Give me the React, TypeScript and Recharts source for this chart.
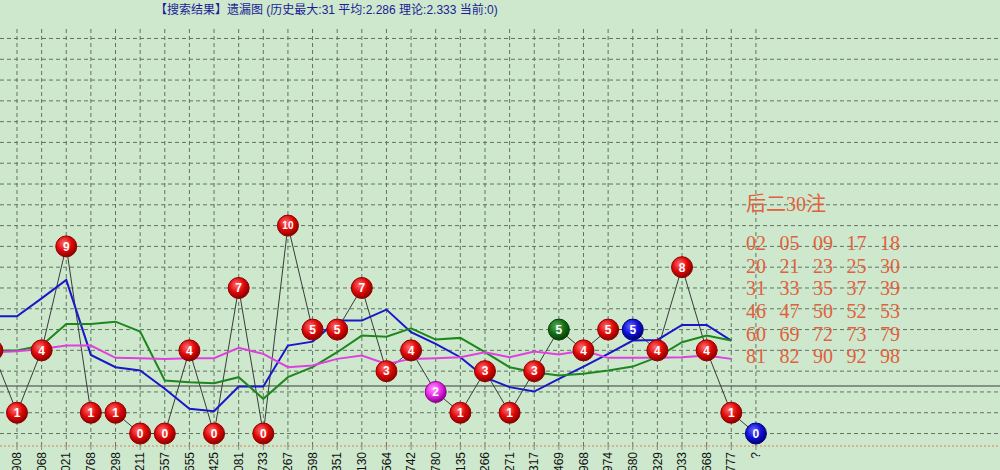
import React from 'react';
import { LineChart, Line, XAxis, YAxis, ReferenceLine } from 'recharts';

// period labels (first one is cut off by the left edge in the source picture)
const periods = ['', '908', '068', '021', '768', '298', '211', '557', '655', '425', '081', '733', '267', '598', '351', '130', '564', '742', '780', '135', '266', '271', '317', '469', '968', '974', '680', '329', '033', '668', '777', '?'];

// miss counts per period
const misses = [4, 1, 4, 9, 1, 1, 0, 0, 4, 0, 7, 0, 10, 5, 5, 7, 3, 4, 2, 1, 3, 1, 3, 5, 4, 5, 5, 4, 8, 4, 1, 0];
const ballKind = ['red', 'red', 'red', 'red', 'red', 'red', 'red', 'red', 'red', 'red', 'red', 'red', 'red', 'red', 'red', 'red', 'red', 'red', 'magenta', 'red', 'red', 'red', 'red', 'green', 'red', 'red', 'blue', 'red', 'red', 'red', 'red', 'blue'];

// moving averages
const maBlue = [5.64, 5.64, 6.5, 7.39, 3.78, 3.19, 3.03, 2.15, 1.19, 1.07, 2.26, 2.26, 4.23, 4.42, 5.43, 5.43, 5.96, 4.87, 4.31, 3.67, 2.7, 2.23, 2.02, 2.63, 3.22, 3.83, 4.47, 4.5, 5.22, 5.22, 4.47];
const maGreen = [3.99, 3.99, 4.23, 5.27, 5.27, 5.38, 4.9, 2.55, 2.47, 2.42, 2.71, 1.67, 2.71, 3.19, 3.91, 4.71, 4.66, 5.06, 4.52, 4.6, 3.91, 3.19, 2.95, 2.79, 2.87, 3.03, 3.22, 3.67, 4.39, 4.71, 4.47];
const maPink = [3.91, 3.96, 4.07, 4.23, 4.23, 3.64, 3.62, 3.59, 3.62, 3.62, 4.12, 3.83, 3.19, 3.27, 3.59, 3.75, 3.35, 3.59, 3.62, 3.67, 3.91, 3.67, 3.94, 3.8, 3.99, 3.64, 3.64, 3.64, 3.67, 3.75, 3.59];

const avgMiss = 2.286;
const yTicks = [0, 1, 2, 3, 4, 5, 6, 7, 8, 9, 10, 11, 12, 13, 14, 15, 16, 17, 18, 19];

const noteTitle = '后二30注';
const noteRows = [
  ['02', '05', '09', '17', '18'],
  ['20', '21', '23', '25', '30'],
  ['31', '33', '35', '37', '39'],
  ['46', '47', '50', '52', '53'],
  ['60', '69', '72', '73', '79'],
  ['81', '82', '90', '92', '98'],
];

const palette: Record<string, [string, string, string]> = {
  red: ['#ff7070', '#e00808', '#8c0000'],
  green: ['#5fb05f', '#157015', '#063f06'],
  blue: ['#6a6aff', '#1010d8', '#00007a'],
  magenta: ['#ff9cff', '#ea2aea', '#8a008a'],
};

const data = periods.map((p, i) => ({
  idx: i,
  miss: misses[i],
  blue: maBlue[i] ?? null,
  green: maGreen[i] ?? null,
  pink: maPink[i] ?? null,
}));

const Ball = (props: any) => {
  const { cx, cy, index, value } = props;
  if (cx == null || cy == null) return null;
  const [light, mid, dark] = palette[ballKind[index]] || palette.red;
  const id = `ball${index}`;
  return (
    <g key={id}>
      <defs>
        <radialGradient id={id} cx="40%" cy="35%" r="65%">
          <stop offset="0%" stopColor={light} />
          <stop offset="55%" stopColor={mid} />
          <stop offset="100%" stopColor={dark} />
        </radialGradient>
      </defs>
      <circle cx={cx} cy={cy} r={10.5} fill={`url(#${id})`} stroke={dark} strokeWidth={1} />
      <text x={cx} y={cy} dy="0.36em" textAnchor="middle" fill="#fff" fontWeight="bold"
        fontSize={value >= 10 ? 10 : 12} fontFamily="Liberation Sans, Arial, sans-serif">{value}</text>
    </g>
  );
};

const PeriodTick = (props: any) => {
  const { x, y, payload } = props;
  const label = periods[payload.value] ?? '';
  return (
    <text x={x} y={y} transform={`rotate(-90 ${x} ${y})`} textAnchor="end" dy="0.35em"
      fontSize={12} fontFamily="Liberation Sans, Arial, sans-serif" fill="#111">{label}</text>
  );
};

const gridStroke = '#617461';

export default function App() {
  return (
    <div style={{ position: 'fixed', left: 0, top: 0, width: 1000, height: 470, overflow: 'hidden', background: '#cde8cc' }}>
      <LineChart width={1000} height={470} data={data} margin={{ top: 26, right: 0, bottom: 0, left: 0 }}>
        <XAxis dataKey="idx" type="number" domain={[0.31, 40.91]} allowDataOverflow
          ticks={periods.map((_, i) => i)} interval={0} height={24} tickSize={4}
          tick={<PeriodTick />} axisLine={{ stroke: '#e0805a', strokeDasharray: '2 2' }}
          tickLine={{ stroke: '#888' }} />
        <YAxis hide type="number" domain={[-0.6, 19.6]} allowDataOverflow ticks={yTicks} />
        {yTicks.map((v) => (
          <ReferenceLine key={`h${v}`} y={v} stroke={gridStroke} strokeDasharray="4 3" />
        ))}
        {periods.map((_, i) => (
          <ReferenceLine key={`v${i}`} x={i} stroke={gridStroke} strokeDasharray="4 3" />
        ))}
        <ReferenceLine y={avgMiss} stroke="#3c3c3c" strokeWidth={1} />
        <Line dataKey="miss" stroke="#3a3a3a" strokeWidth={1} dot={<Ball />} isAnimationActive={false} />
        <Line dataKey="blue" stroke="#1818c8" strokeWidth={2} dot={false} isAnimationActive={false} />
        <Line dataKey="green" stroke="#1e861e" strokeWidth={2} dot={false} isAnimationActive={false} />
        <Line dataKey="pink" stroke="#e040e0" strokeWidth={2} dot={false} isAnimationActive={false} />
      </LineChart>

      <div style={{ position: 'absolute', left: 155, top: 2, fontSize: 12, color: '#1c1c96', whiteSpace: 'nowrap',
        fontFamily: 'Liberation Sans, "Noto Sans CJK SC", sans-serif', lineHeight: '16px' }}>
        【搜索结果】遗漏图 (历史最大:31 平均:2.286 理论:2.333 当前:0)
      </div>

      <div style={{ position: 'absolute', left: 746, top: 193, color: '#e2603c', fontSize: 20, lineHeight: '22px',
        fontFamily: 'Liberation Serif, "Noto Sans CJK SC", serif', whiteSpace: 'nowrap' }}>
        {noteTitle}
      </div>
      <div style={{ position: 'absolute', left: 746, top: 232, color: '#e2603c', fontSize: 20,
        fontFamily: 'Liberation Serif, serif' }}>
        {noteRows.map((row, r) => (
          <div key={r} style={{ display: 'flex', height: 22.7, lineHeight: '22.7px' }}>
            {row.map((n, c) => (
              <span key={c} style={{ width: 33.5 }}>{n}</span>
            ))}
          </div>
        ))}
      </div>
    </div>
  );
}
